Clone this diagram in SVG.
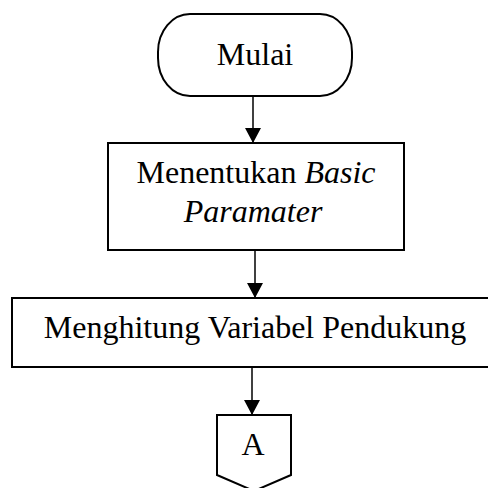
<svg xmlns="http://www.w3.org/2000/svg" width="488" height="488" viewBox="0 0 488 488">
<style>
.shape{fill:#fff;stroke:#000;stroke-width:2}
.line{stroke:#000;stroke-width:1.5;fill:none}
.t{font-family:"Liberation Serif","Times New Roman",serif;font-size:32px;fill:#000;text-anchor:middle}
.i{font-style:italic}
</style>
<defs>
<marker id="arr" markerUnits="userSpaceOnUse" markerWidth="16" markerHeight="16" viewBox="0 0 16 16" refX="15" refY="8" orient="auto">
<path d="M0,0 L15,8 L0,16 Z" fill="#000"/>
</marker>
</defs>
<g id="connectors">
<line class="line" x1="253" y1="96" x2="253" y2="143" marker-end="url(#arr)"/>
<line class="line" x1="255" y1="250" x2="255" y2="298" marker-end="url(#arr)"/>
<line class="line" x1="252" y1="367" x2="252" y2="415" marker-end="url(#arr)"/>
</g>
<g id="mulai">
<rect class="shape" x="158" y="14" width="194" height="82" rx="32" ry="38"/>
<text class="t" x="255" y="65">Mulai</text>
</g>
<g id="basic">
<rect class="shape" x="108" y="143" width="296" height="107"/>
<text class="t" x="256" y="183">Menentukan <tspan class="i">Basic</tspan></text>
<text class="t i" x="253" y="222">Paramater</text>
</g>
<g id="variabel">
<rect class="shape" x="12" y="298" width="486" height="69"/>
<text class="t" x="255" y="338">Menghitung Variabel Pendukung</text>
</g>
<g id="konektorA">
<path class="shape" d="M217,415 L291,415 L291,475 L254,491 L217,475 Z"/>
<text class="t" x="253" y="455">A</text>
</g>
</svg>
